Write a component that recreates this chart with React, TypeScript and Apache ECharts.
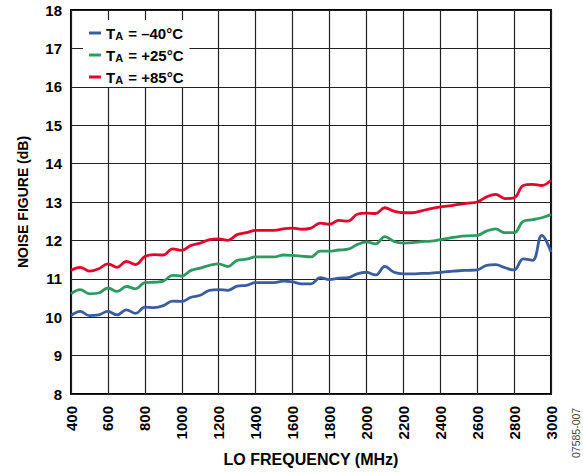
import React, { useEffect, useRef } from "react";
import * as echarts from "echarts";

const freqs = [400,450,500,550,600,650,700,750,800,850,900,950,1000,1050,1100,1150,1200,1250,1300,1350,1400,1450,1500,1550,1600,1650,1700,1750,1800,1850,1900,1950,2000,2050,2100,2150,2200,2250,2300,2350,2400,2450,2500,2550,2600,2650,2700,2750,2800,2850,2900,2950,3000];

const nfMinus40 = [10.04,10.15,10.04,10.06,10.15,10.06,10.19,10.1,10.26,10.25,10.3,10.42,10.41,10.52,10.57,10.7,10.72,10.7,10.81,10.83,10.9,10.9,10.9,10.94,10.92,10.87,10.87,11.03,10.98,11.02,11.03,11.13,11.17,11.1,11.32,11.17,11.13,11.13,11.14,11.15,11.17,11.19,11.21,11.22,11.23,11.35,11.37,11.29,11.23,11.52,11.48,12.13,11.7];

const nfPlus25 = [10.61,10.72,10.61,10.63,10.76,10.67,10.8,10.74,10.9,10.91,10.94,11.09,11.07,11.22,11.28,11.35,11.39,11.32,11.48,11.51,11.57,11.57,11.57,11.62,11.61,11.59,11.57,11.72,11.72,11.75,11.77,11.89,11.96,11.91,12.1,11.97,11.93,11.94,11.97,11.98,12.02,12.06,12.1,12.12,12.13,12.24,12.3,12.2,12.2,12.5,12.54,12.59,12.67];

const nfPlus85 = [11.22,11.3,11.2,11.26,11.39,11.3,11.45,11.37,11.58,11.63,11.62,11.78,11.74,11.87,11.93,12.02,12.04,12.0,12.15,12.2,12.26,12.26,12.26,12.3,12.32,12.29,12.32,12.45,12.42,12.52,12.5,12.68,12.71,12.7,12.85,12.76,12.72,12.72,12.77,12.83,12.87,12.9,12.94,12.97,13.0,13.13,13.2,13.09,13.11,13.43,13.46,13.43,13.57];

const seriesNames = ["TA = –40°C", "TA = +25°C", "TA = +85°C"];
const seriesSuffix = [" = –40°C", " = +25°C", " = +85°C"];
const seriesColors = ["#3A5DA0", "#2E9A60", "#E3062C"];
const seriesValues = [nfMinus40, nfPlus25, nfPlus85];

const xTitle = "LO FREQUENCY (MHz)";
const yTitle = "NOISE FIGURE (dB)";
const figureId = "07585-007";

const FONT = "Arial, 'Liberation Sans', Helvetica, sans-serif";

export default function App() {
  const ref = useRef<HTMLDivElement>(null);
  useEffect(() => {
    document.body.style.margin = "0";
    if (!ref.current) return;
    const chart = echarts.init(ref.current, undefined, { renderer: "svg" });
    chart.setOption({
      animation: false,
      backgroundColor: "#fff",
      grid: {
        left: 71,
        right: 32,
        top: 10,
        bottom: 79,
        show: true,
        borderColor: "#000",
        borderWidth: 2,
        containLabel: false,
      },
      legend: {
        orient: "vertical",
        left: 83,
        top: 20,
        backgroundColor: "#fff",
        padding: [2, 6, 2, 6],
        itemGap: 3,
        itemWidth: 12,
        itemHeight: 3,
        icon: "rect",
        data: seriesNames,
        formatter: (name: string) => {
          const i = seriesNames.indexOf(name);
          return "{t|T}{s|A}{t|" + seriesSuffix[i] + "}";
        },
        textStyle: {
          rich: {
            t: { fontFamily: FONT, fontWeight: "bold", fontSize: 15, color: "#000", lineHeight: 16 },
            s: { fontFamily: FONT, fontWeight: "bold", fontSize: 11, color: "#000", verticalAlign: "bottom", lineHeight: 8, padding: [8, 1, 0, 0] },
          },
        },
      },
      xAxis: {
        type: "value",
        min: 400,
        max: 3000,
        interval: 200,
        name: xTitle,
        nameLocation: "middle",
        nameGap: 57,
        nameTextStyle: { fontFamily: FONT, fontWeight: "bold", fontSize: 16, color: "#000" },
        axisLine: { show: false },
        axisTick: { show: false },
        axisLabel: {
          rotate: 90,
          margin: 12,
          fontFamily: FONT,
          fontWeight: "bold",
          fontSize: 15,
          color: "#000",
          formatter: (v: number) => String(v),
        },
        splitLine: { show: true, lineStyle: { color: "#222", width: 1.2 } },
      },
      yAxis: {
        type: "value",
        min: 8,
        max: 18,
        interval: 1,
        name: yTitle,
        nameLocation: "middle",
        nameGap: 41,
        nameTextStyle: { fontFamily: FONT, fontWeight: "bold", fontSize: 14, color: "#000" },
        axisLine: { show: false },
        axisTick: { show: false },
        axisLabel: {
          margin: 9,
          fontFamily: FONT,
          fontWeight: "bold",
          fontSize: 15,
          color: "#000",
        },
        splitLine: { show: true, lineStyle: { color: "#222", width: 1.2 } },
      },
      graphic: [
        {
          type: "text",
          x: 576,
          y: 458,
          rotation: Math.PI / 2,
          style: { text: figureId, fontFamily: FONT, fontSize: 10.5, fill: "#444", textAlign: "left", textVerticalAlign: "middle", verticalAlign: "middle" },
        },
      ],
      series: seriesNames.map((name, i) => ({
        name,
        type: "line",
        smooth: 0.4,
        symbol: "none",
        color: seriesColors[i],
        lineStyle: { width: 2.8, color: seriesColors[i] },
        data: freqs.map((f, j) => [f, seriesValues[i][j]]),
      })),
    });
    return () => chart.dispose();
  }, []);
  return <div ref={ref} style={{ width: 583, height: 473 }} />;
}
